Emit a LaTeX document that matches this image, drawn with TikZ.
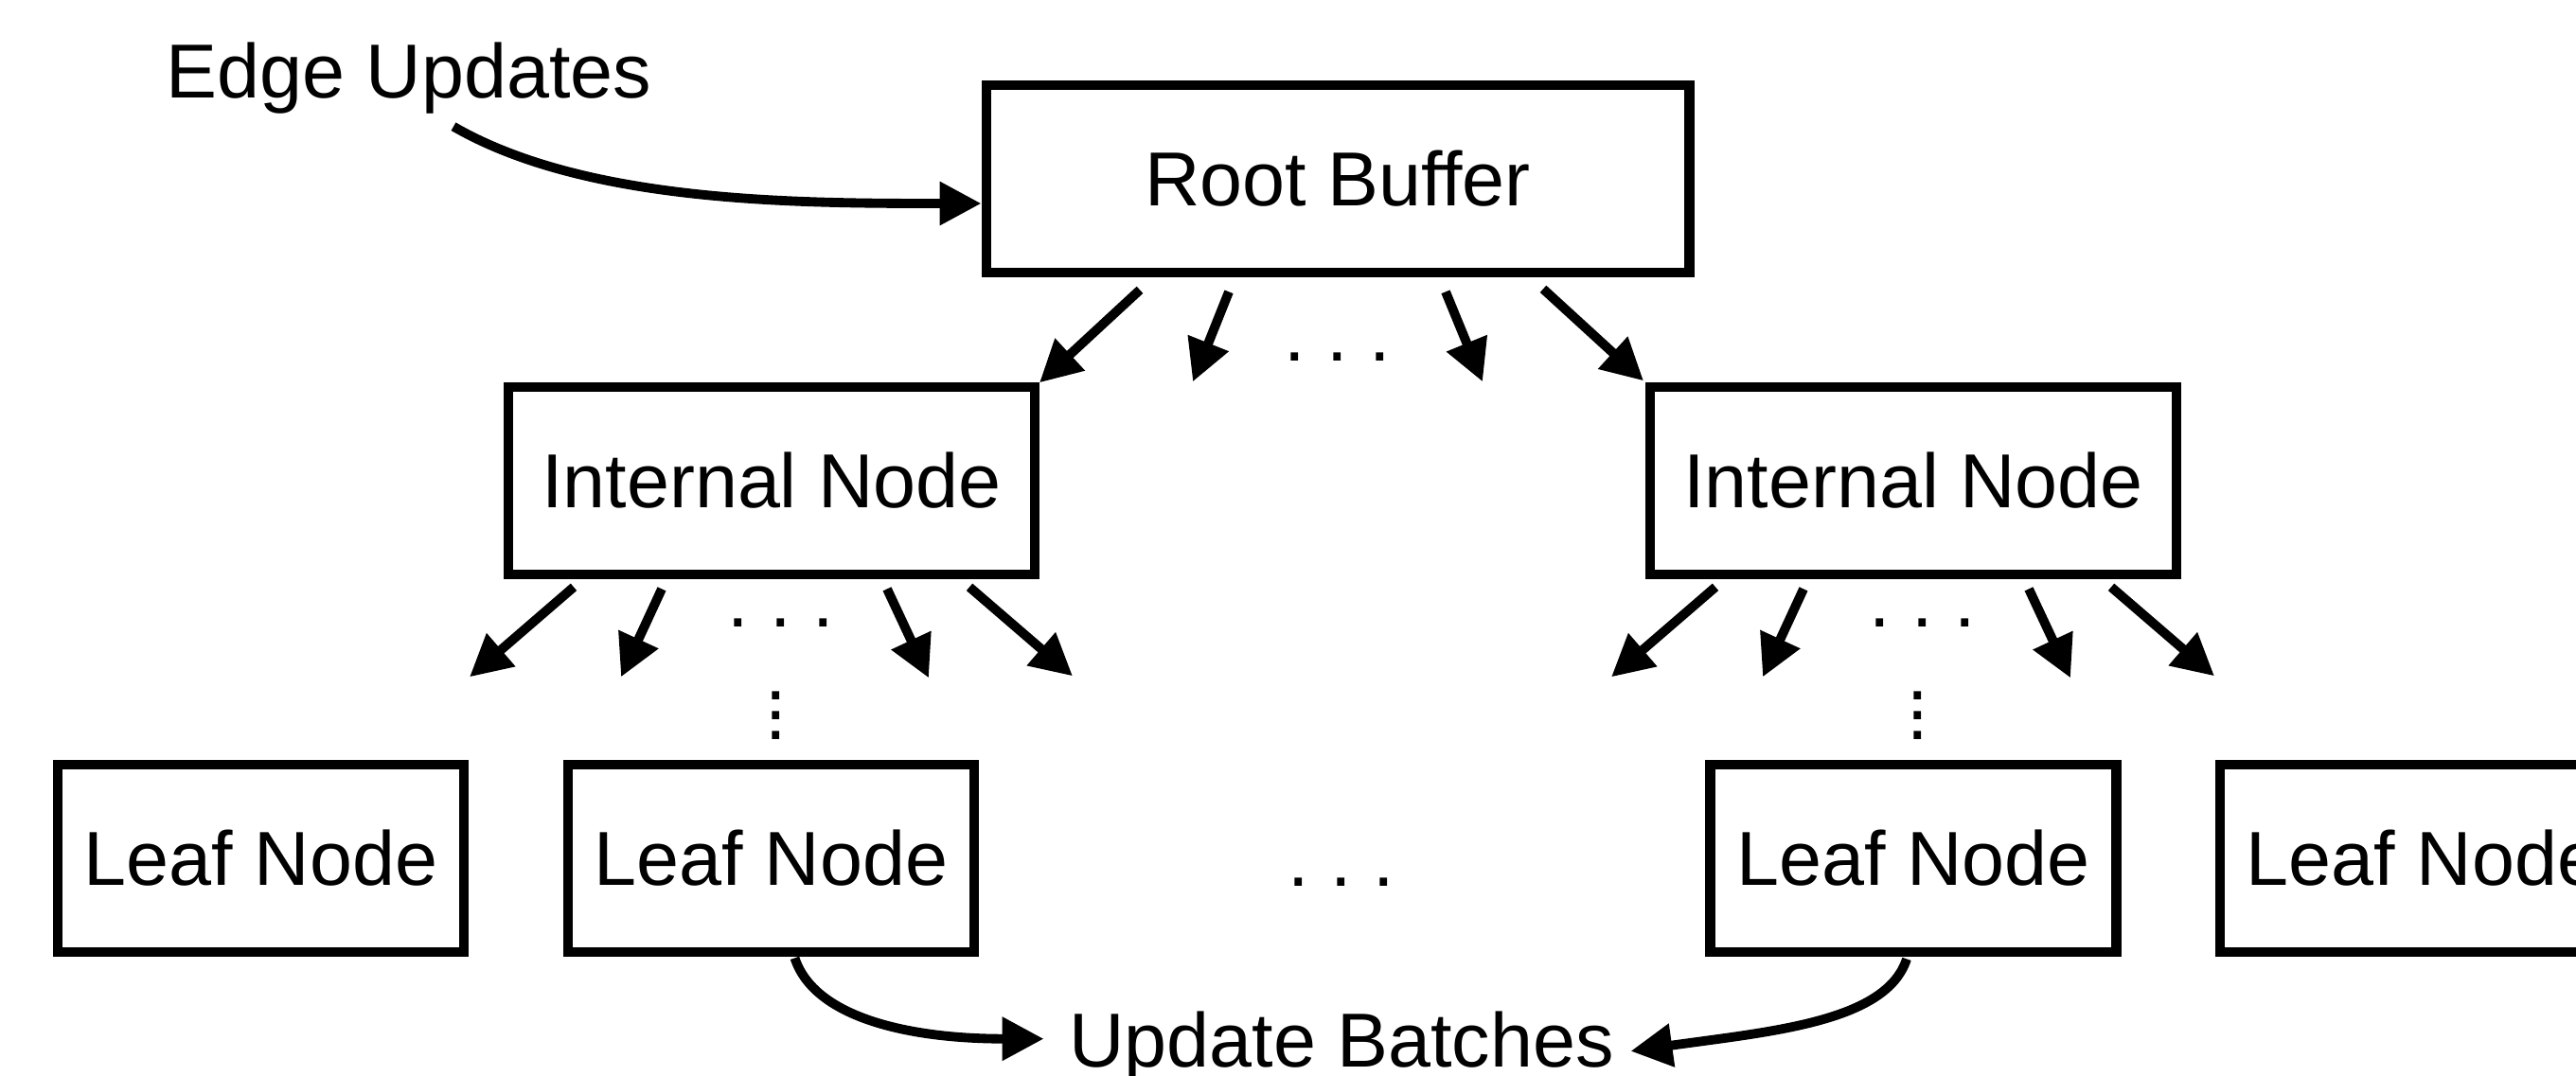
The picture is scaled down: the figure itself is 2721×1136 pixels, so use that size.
\documentclass[tikz,border=0pt]{standalone}
\usepackage{fontspec}
\setmainfont{Liberation Sans}
\usetikzlibrary{arrows.meta}
\frenchspacing
\newcommand{\tallvdots}{\vbox{\baselineskip=5.97pt\lineskiplimit=-20pt\hbox{.}\hbox{.}\hbox{.}}}

\begin{document}
\begin{tikzpicture}[x=0.01cm,y=0.01cm,
  box/.style={draw,line width=3pt,minimum height=1.98cm,inner sep=0pt,font=\fontsize{23}{27}\selectfont},
  lbl/.style={inner sep=0pt,text depth=0pt,font=\fontsize{23}{27}\selectfont},
  arr/.style={line width=2.8pt,-{Triangle[length=12.5pt,width=12.5pt]}}]
\useasboundingbox (0,0) rectangle (2721,-1136);
\node[box,minimum width=7.42cm] (root) at (1413,-189) {Root Buffer};
\node[box,minimum width=5.56cm] (int1) at (815,-508) {Internal Node};
\node[box,minimum width=5.56cm] (int2) at (2021,-508) {Internal Node};
\node[box,minimum width=4.29cm] (leaf1) at (275.5,-907) {Leaf Node};
\node[box,minimum width=4.29cm] (leaf2) at (814.5,-907) {Leaf Node};
\node[box,minimum width=4.29cm] (leaf3) at (2021,-907) {Leaf Node};
\node[box,minimum width=4.29cm] (leaf4) at (2559.5,-907) {Leaf Node};
\node[lbl,anchor=base] (edge) at (432,-103) {Edge Updates};
\node[lbl,anchor=base] (upd) at (1417,-1127) {Update Batches};
\node[lbl,anchor=base] (droot) at (1413,-381) {. . .};
\node[lbl,anchor=base] (dint1) at (825,-662) {. . .};
\node[lbl,anchor=base] (dint2) at (2031,-662) {. . .};
\node[lbl,anchor=base] (dleaf) at (1417,-936) {. . .};
\node[lbl] (vint1) at (820,-756) {\tallvdots};
\node[lbl] (vint2) at (2026,-756) {\tallvdots};
\foreach \sx/\sy/\ex/\ey in {-209/-13/-315/-111,-115/-15/-153/-110,114/-15/153/-110,217/-12/323/-109}
  \draw[arr] ([shift={(\sx,\sy)}]root.south) -- ([shift={(\ex,\ey)}]root.south);
\foreach \n in {int1,int2}
  \foreach \sx/\sy/\ex/\ey in {-209/-8/-319/-103,-116/-10/-159/-103,122/-10/166/-104,209/-8/318/-102}
    \draw[arr] ([shift={(\sx,\sy)}]\n.south) -- ([shift={(\ex,\ey)}]\n.south);
\draw[arr] ([shift={(47,-30)}]edge.south) to[out=-30,in=180,out distance=1.6cm,in distance=2cm] ([shift={(0,-26)}]root.west);
\draw[arr] ([shift={(25,-1)}]leaf2.south) to[out=-72,in=180,out distance=0.66cm,in distance=1.43cm] ([shift={(-26,0)}]upd.west);
\draw[arr] ([shift={(-7,-2)}]leaf3.south) to[out=-108,in=8,out distance=0.7cm,in distance=1.5cm] ([shift={(17,-13)}]upd.east);
\end{tikzpicture}
\end{document}
